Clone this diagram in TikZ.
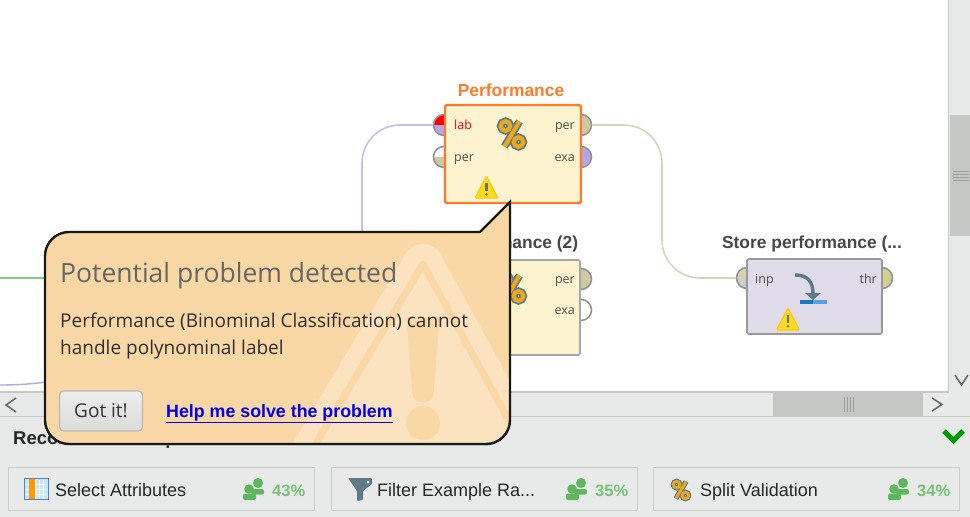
\documentclass[tikz,border=0pt]{standalone}
\usepackage{fontspec}
\usepackage{tikz}
\setmainfont{Liberation Sans}
\newfontfamily\opensans{Open Sans}
\usetikzlibrary{calc}

\definecolor{panelgray}{HTML}{E8EAEA}
\definecolor{thumbgray}{HTML}{C5C7C5}
\definecolor{opyellow}{HTML}{FDF3CF}
\definecolor{oporange}{HTML}{FF7A2A}
\definecolor{oplilac}{HTML}{DFDBE9}
\definecolor{porttan}{HTML}{CFC9A3}
\definecolor{portlilac}{HTML}{B4A8E2}
\definecolor{calloutfill}{HTML}{FAD8A5}
\definecolor{calloutmark}{HTML}{FBE3BF}
\definecolor{peoplegreen}{HTML}{5DB85D}
\definecolor{icondark}{HTML}{5E7A86}
\definecolor{iconorange}{HTML}{E8A820}

\newcommand{\calloutpath}{(510,202) [rounded corners=24] -- (510,444) -- (45,444) -- (45,232) [sharp corners] -- (480,232) -- cycle}

\tikzset{
  opbox/.style={draw=#1,line width=1.6,rounded corners=1.5,minimum width=135,minimum height=98,inner sep=0},
  optitle/.style={font=\fontsize{17.4}{20}\selectfont\bfseries,text=black!72,inner sep=0},
  portlabel/.style={font=\opensans\fontsize{12.5}{15}\selectfont,text=black!70,inner sep=0},
  port/.style 2 args={circle,draw=black!42,line width=1.6,minimum size=21,inner sep=0,fill=#1,
    path picture={\fill[#2] (path picture bounding box.west) rectangle (path picture bounding box.south east);}},
  labport/.style={circle,draw=black!42,line width=1.6,minimum size=21,inner sep=0,fill=portlilac,
    path picture={\fill[red] (path picture bounding box.north west) rectangle (path picture bounding box.center);}},
  wire/.style={draw=#1,line width=1.6,rounded corners=38},
  scrollarrow/.style={draw=black!58,line width=1.6},
  recbox/.style={draw=black!20,line width=1.6,minimum width=306,minimum height=43,inner sep=0},
  rectext/.style={font=\fontsize{18}{20}\selectfont,text=black!85,inner sep=0,anchor=base west},
  recpct/.style={font=\fontsize{16.5}{20}\selectfont\bfseries,text=peoplegreen!85,inner sep=0,anchor=base west},
  pics/pcticon/.style={code={
    \begin{scope}[scale=#1]
    \draw[draw=icondark,line width=#1*7.6] (-6.5,-8) circle (4.8) (6.5,8) circle (4.8) (7.5,-12.5) -- (-7.5,12.5);
    \draw[draw=iconorange,line width=#1*4.2] (-6.5,-8) circle (4.8) (6.5,8) circle (4.8) (7.5,-12.5) -- (-7.5,12.5);
    \end{scope}
  }},
  pics/warnicon/.style={code={
    \draw[fill=yellow!75!orange!90!white,draw=yellow!60!orange,line width=1,rounded corners=1] (0,-11) -- (11.5,11) -- (-11.5,11) -- cycle;
    \draw[draw=icondark,line width=2.2] (0,-4) -- (0,4);
    \fill[icondark] (0,7.2) circle (1.4);
  }},
  pics/peopleicon/.style={code={
    \fill[peoplegreen] (4,-6) circle (5) (-5,0) circle (4.8);
    \fill[peoplegreen,rounded corners=2] (-3,5.5) -- (-3,0) -- (10,0) -- (10,5.5) -- cycle;
    \fill[peoplegreen,rounded corners=2] (-11,11) -- (-11,4.5) -- (2,4.5) -- (2,11) -- cycle;
  }}
}

\begin{document}
\begin{tikzpicture}[x=1pt,y=-1pt]
\useasboundingbox (0,0) rectangle (970,517);
\clip (0,0) rectangle (970,517);

\fill[white] (0,0) rectangle (970,517);

% connectors and ports come first, the boxes sit on them
\coordinate (labturn) at (362,300);
\coordinate (tanturn) at (662,200);
\coordinate (greenend) at (60,278);
\coordinate (greenstart) at (0,278);
\coordinate (lilacstart) at (0,385);
\coordinate (lilacend) at (60,380);

\node[labport] (lab) at (444,125) {};
\node[port={white}{porttan}] (perin) at (444,157) {};
\node[port={porttan}{porttan}] (perout) at (581,125) {};
\node[port={portlilac}{portlilac}] (exaout) at (581,157) {};
\node[port={porttan}{porttan}] (peroutb) at (581,279) {};
\node[port={white}{white}] (exaoutb) at (581,310) {};
\node[port={porttan!85!white}{black!20}] (inp) at (747,278) {};
\node[port={porttan!90!yellow}{porttan!90!yellow}] (thr) at (882,278) {};

\draw[wire=portlilac!75!white] (lab.west) -| (labturn);
\draw[wire=porttan!80!white] (perout.east) -| (tanturn) |- (inp.west);
\draw[draw=green!45!gray!70,line width=1.2] (greenstart) -- (greenend);
\draw[draw=portlilac,line width=1.4] (lilacstart) .. controls (25,385) and (40,383) .. (lilacend);

\node[opbox=oporange,line width=2.4,minimum width=136,fill=opyellow] (perf) at (513,154) {};
\node[opbox=black!35,fill=opyellow,minimum height=95] (perfb) at (512.5,307.5) {};
\node[opbox=black!40,fill=oplilac,minimum height=75] (store) at (814.5,296.5) {};

\node[optitle,text=oporange] (perftitle) at (511,90) {Performance};
\node[optitle] (perfbtitle) at (512,244) {Performance (2)};
\node[optitle] (storetitle) at (812,244) {Store performance (...};

\node[portlabel,text=red,anchor=base west] (lablabel) at (454,129) {lab};
\node[portlabel,anchor=base west] (perinlabel) at (454,161) {per};
\node[portlabel,anchor=base east] (peroutlabel) at (575,129) {per};
\node[portlabel,anchor=base east] (exaoutlabel) at (575,161) {exa};
\node[portlabel,anchor=base east] (peroutblabel) at (575,283) {per};
\node[portlabel,anchor=base east] (exaoutblabel) at (575,314) {exa};
\node[portlabel,anchor=base west] (inplabel) at (755,283) {inp};
\node[portlabel,anchor=base east] (thrlabel) at (877,283) {thr};

\pic at (512,134) {pcticon=1};
\pic at (512,288) {pcticon=1};
\pic at (486.5,187) {warnicon};
\pic at (788,319) {warnicon};

% store icon
\draw[draw=icondark,line width=3.4] (795,275) .. controls (808,275) and (813,282) .. (813,294);
\fill[icondark] (805,293) -- (821,293) -- (813,300) -- cycle;
\fill[cyan!60!blue] (800,300) rectangle (813,304);
\fill[cyan!70!blue!70!white] (813,300) rectangle (827,304);

% scrollbars and lower panel
\fill[panelgray] (949,0) rectangle (970,392);
\fill[panelgray] (0,392) rectangle (970,517);
\draw[draw=black!22,line width=1.4] (948.5,0) -- (948.5,392) -- (0,392);
\fill[thumbgray] (950,115) rectangle (970,236);
\fill[thumbgray] (773,393) rectangle (923,416);
\draw[draw=black!22,line width=1.2] (0,416.5) -- (970,416.5);
\foreach \y in {171,174,177,180}
  \draw[draw=black!38] (953,\y) -- (969,\y);
\foreach \x in {844,847,850,853}
  \draw[draw=black!38] (\x,397) -- (\x,412);
\draw[scrollarrow] (16,398) -- (6,405) -- (16,412);
\draw[scrollarrow] (932,398) -- (942,404.5) -- (932,411);
\draw[scrollarrow] (955,375) -- (961.5,385) -- (968,375);

\node[font=\fontsize{18.5}{20}\selectfont\bfseries,text=black!85,inner sep=0,anchor=base west] (rectitle) at (13,444) {Recommended Operators};
\draw[draw=green!60!black,line width=5] (944,431) -- (953.5,440.5) -- (963,431);

% recommended operators row
\node[recbox] (recone) at (161.5,489) {};
\node[recbox] (rectwo) at (484.5,489) {};
\node[recbox] (recthree) at (806.5,489) {};

\node[rectext] (reconetext) at (55,496) {Select Attributes};
\node[rectext] (rectwotext) at (377,496) {Filter Example Ra...};
\node[rectext] (recthreetext) at (700,496) {Split Validation};
\node[recpct] (reconepct) at (272,496) {43\%};
\node[recpct] (rectwopct) at (595,496) {35\%};
\node[recpct] (recthreepct) at (917,496) {34\%};

\pic at (254,489) {peopleicon};
\pic at (577,489) {peopleicon};
\pic at (899,489) {peopleicon};
\pic at (681,490) {pcticon=0.68};

% table icon
\fill[cyan!25!white] (24,478) rectangle (48,500);
\foreach \x in {35,39,43}
  \draw[draw=white] (\x,480) -- (\x,499);
\foreach \y in {484,489,494}
  \draw[draw=white] (25,\y) -- (47,\y);
\fill[orange!80!yellow] (29,478) rectangle (35,500);
\draw[draw=cyan!40!blue!70!white,line width=1.2] (24.5,478.5) rectangle (48.5,499.5);

% funnel icon
\fill[icondark,rounded corners=1] (348,478) -- (372,478) -- (372,484) -- (363,491) -- (363,500) -- (357,501) -- (357,491) -- cycle;
\fill[white] (368,482) circle (1.5);

% callout
\fill[black!25,opacity=.6] [xshift=1,yshift=-1.5] \calloutpath;
\fill[calloutfill] \calloutpath;
\begin{scope}
\clip \calloutpath;
\draw[fill=calloutmark,draw=calloutmark,line width=40,line join=round] (423,264) -- (296,477) -- (540,477) -- cycle;
\draw[draw=calloutfill,line width=7,line join=round] (423,264) -- (296,477) -- (540,477) -- cycle;
\fill[calloutfill,rounded corners=8] (407,325) .. controls (407,318) and (439,318) .. (439,325) -- (433,402) -- (413,402) -- cycle;
\fill[calloutfill] (423,423) circle (17);
\end{scope}
\draw[draw=black!90,line width=2.4] \calloutpath;

\node[font=\opensans\fontsize{26.5}{32}\selectfont,text=black!60,inner sep=0,anchor=base west] (heading) at (60,282) {Potential problem detected};
\node[font=\opensans\fontsize{19}{21}\selectfont,text=black!82,inner sep=0,anchor=base west] (bodyone) at (60,327) {Performance (Binominal Classification) cannot};
\node[font=\opensans\fontsize{19}{21}\selectfont,text=black!82,inner sep=0,anchor=base west] (bodytwo) at (60,354) {handle polynominal label};

\node[draw=black!28,line width=1.2,rounded corners=4,top color=black!7,bottom color=black!14,minimum width=83,minimum height=40,inner sep=0,
  font=\opensans\fontsize{19}{22}\selectfont,text=black!80] (gotit) at (101,411) {Got it!};
\node[font=\fontsize{17.8}{20}\selectfont\bfseries,text={rgb,255:red,0;green,0;blue,238},inner sep=0,anchor=base west] (helplink) at (166,417) {\underline{Help me solve the problem}};

\end{tikzpicture}
\end{document}
